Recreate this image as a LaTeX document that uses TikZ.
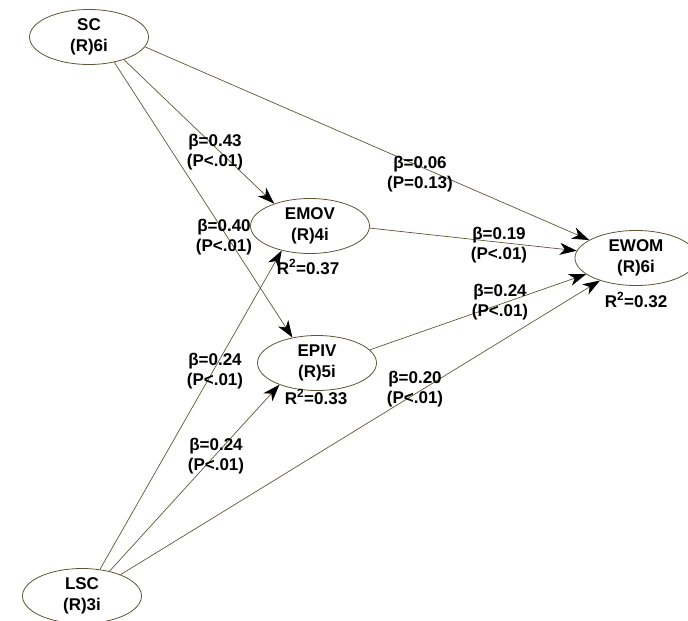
\documentclass[tikz,border=0pt]{standalone}
\usepackage{fontspec}
\setmainfont{Liberation Sans}
\usetikzlibrary{shapes.geometric, arrows.meta}
\definecolor{lgray}{RGB}{95,85,55}

\begin{document}
\begin{tikzpicture}[x=1pt, y=-1pt,
         >={Stealth[length=17pt, width=12pt, inset=5pt, color=black]},
         latent/.style={
         % The shape:
         ellipse,
         % The size:
         minimum width=119pt,
         minimum height=55pt,
         inner sep=0pt,
         % The border
         draw=lgray, line width=.8pt,
         fill=white,
         % Font
         font=\fontsize{17}{20.5}\selectfont\bfseries, align=center},
         coef/.style={font=\fontsize{17}{20.5}\selectfont\bfseries, align=center, inner sep=0pt},
         link/.style={->, draw=lgray, line width=.7pt}]
   \useasboundingbox (0,0) rectangle (688,621);
   %% latent variables
   \node [latent] (sc) at (89,37) {SC\\(R)6i};
   \node [latent] (emov) at (310,226) {EMOV\\(R)4i};
   \node [latent] (epiv) at (317,363) {EPIV\\(R)5i};
   \node [latent, minimum width=122pt] (ewom) at (636,258) {EWOM\\(R)6i};
   \node [latent] (lsc) at (82,596) {LSC\\(R)3i};
   %% paths
   \foreach \s/\t in {sc.-45/epiv.134, sc.-33/emov.148, sc.-10/ewom.159,
                      emov.-2/ewom.173, epiv.14/ewom.198,
                      lsc.56/emov.-139, lsc.42/epiv.210, lsc.29/ewom.212}{
      \draw [link] (\s) -- (\t);
   };
   %% coefficients
   \node [coef] (b43) at (215,152) {β=0.43\\(P<.01)};
   \node [coef] (b40) at (224,237) {β=0.40\\(P<.01)};
   \node [coef] (b06) at (420,174) {β=0.06\\(P=0.13)};
   \node [coef] (b19) at (499,245) {β=0.19\\(P<.01)};
   \node [coef] (b24a) at (500,302) {β=0.24\\(P<.01)};
   \node [coef] (b24b) at (215,371) {β=0.24\\(P<.01)};
   \node [coef] (b24c) at (216,456) {β=0.24\\(P<.01)};
   \node [coef] (b20) at (415,389) {β=0.20\\(P<.01)};
   \node [coef] (r37) at (308,267) {R\textsuperscript{2}=0.37};
   \node [coef] (r33) at (316,397) {R\textsuperscript{2}=0.33};
   \node [coef] (r32) at (636,300) {R\textsuperscript{2}=0.32};
\end{tikzpicture}
\end{document}
